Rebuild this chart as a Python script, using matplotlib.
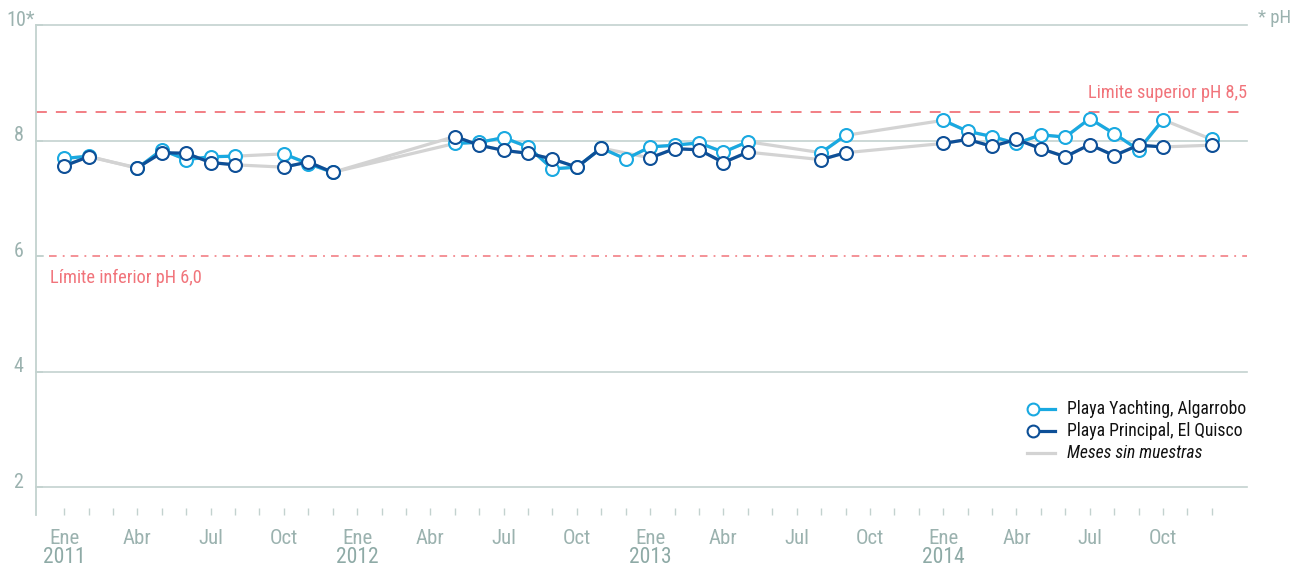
import numpy as np
import matplotlib
matplotlib.use('Agg')
import matplotlib.pyplot as plt
from matplotlib import font_manager
from matplotlib.lines import Line2D
from matplotlib.transforms import ScaledTranslation, blended_transform_factory

# fuente estrecha si existe
nombres = {f.name for f in font_manager.fontManager.ttflist}
fuente = 'DejaVu Sans'
for f in ['Liberation Sans Narrow', 'Roboto Condensed', 'Roboto']:
    if f in nombres:
        fuente = f
        break
plt.rcParams['font.family'] = [fuente, 'DejaVu Sans']

nan = np.nan
meses = np.arange(48)  # 0 = Ene 2011
etiquetas_mes = ['Ene', 'Abr', 'Jul', 'Oct']
anios = ['2011', '2012', '2013', '2014']

yachting = [7.69, 7.73, nan, 7.52, 7.84, 7.67, 7.72, 7.73, nan, 7.77, 7.60, 7.45,
            nan, nan, nan, nan, 7.95, 7.97, 8.05, 7.89, 7.51, 7.54, 7.87, 7.68,
            7.89, 7.92, 7.96, 7.80, 7.98, nan, nan, 7.79, 8.09, nan, nan, nan,
            8.35, 8.16, 8.07, 7.95, 8.10, 8.06, 8.38, 8.12, 7.84, 8.36, nan, 8.02]
principal = [7.56, 7.72, nan, 7.53, 7.79, 7.78, 7.62, 7.58, nan, 7.54, 7.63, 7.45,
             nan, nan, nan, nan, 8.07, 7.92, 7.83, 7.78, 7.68, 7.54, 7.87, nan,
             7.70, 7.86, 7.84, 7.62, 7.80, nan, nan, 7.67, 7.79, nan, nan, nan,
             7.95, 8.02, 7.90, 8.02, 7.86, 7.72, 7.93, 7.74, 7.92, 7.89, nan, 7.92]

lim_sup = 8.5
lim_inf = 6.0

c_yach = '#19a9e1'
c_prin = '#0d4f97'
c_gris = '#d3d3d3'
c_rojo = '#f1747b'
c_eje = '#c3d2cf'
c_txt = '#9bb2af'

W, H = 1304, 567
fig = plt.figure(figsize=(W / 100, H / 100), dpi=100)
x0, x1, y0, y1 = 36, 1247, 25, 515
ax = fig.add_axes([x0 / W, 1 - y1 / H, (x1 - x0) / W, (y1 - y0) / H])
ax.set_xlim(-1.15, 48.44)
ax.set_ylim(1.52, 10)

for s in ['top', 'right', 'bottom']:
    ax.spines[s].set_visible(False)
ax.spines['left'].set_color(c_eje)
ax.spines['left'].set_linewidth(1.3)

# rejilla
for v in [2, 4, 8, 10]:
    ax.axhline(v, color=c_eje, lw=1.2, zorder=1, clip_on=False)

# límites
ax.axhline(lim_sup, color=c_rojo, lw=1.3, ls=(0, (6, 5)), zorder=1)
ax.plot([-1.15, -0.85], [lim_inf, lim_inf], color=c_eje, lw=1.2, zorder=1)
ax.plot([-0.6, 48.44], [lim_inf, lim_inf], color=c_rojo, lw=1.1,
        ls=(0, (5, 4, 1.2, 4)), zorder=1)
ax.text(48.44, 8.82, 'Limite superior pH 8,5', color=c_rojo, fontsize=13.2,
        ha='right', va='center')
ax.text(-1.15 + 14 / 24.42, 5.62, 'Límite inferior pH 6,0', color=c_rojo,
        fontsize=13.2, ha='left', va='center')

# series: gris para meses sin muestras, color para meses consecutivos
for serie, col in [(yachting, c_yach), (principal, c_prin)]:
    y = np.array(serie, dtype=float)
    ok = ~np.isnan(y)
    ax.plot(meses[ok], y[ok], color=c_gris, lw=2.3, zorder=2,
            solid_capstyle='round')
for serie, col in [(yachting, c_yach), (principal, c_prin)]:
    ax.plot(meses, serie, color=col, lw=2.3, marker='o', ms=9.3, mfc='white',
            mec=col, mew=1.5, zorder=3)

# eje y
ax.set_yticks([2, 4, 6, 8, 10], ['2', '4', '6', '8', '10*'])
ax.tick_params(axis='y', direction='in', length=5, width=1.2, color=c_eje,
               labelcolor=c_txt, labelsize=14.5, pad=9)
for lbl in ax.get_yticklabels():
    dx = 8 / 72 if lbl.get_text() == '10*' else 0
    lbl.set_transform(lbl.get_transform() + ScaledTranslation(dx, 5 / 72, fig.dpi_scale_trans))

# eje x
ax.set_xticks(meses, [etiquetas_mes[m // 3 % 4] if m % 3 == 0 else '' for m in meses])
ax.tick_params(axis='x', direction='in', length=5, width=1, color=c_eje,
               labelcolor=c_txt, labelsize=15, pad=10)
tr = blended_transform_factory(ax.transData, ax.transAxes)
for i, a in enumerate(anios):
    ax.text(i * 12, -0.086, a, transform=tr, color='#8eaaa6', fontsize=15.5,
            ha='center', va='center')

fig.text(1258 / W, 1 - 18 / H, '* pH', color=c_txt, fontsize=13.5, ha='left', va='center')

# leyenda
items = [('Playa Yachting, Algarrobo', c_yach, True, 'normal'),
         ('Playa Principal, El Quisco', c_prin, True, 'normal'),
         ('Meses sin muestras', c_gris, False, 'italic')]
for k, (txt, col, mk, estilo) in enumerate(items):
    yy = 1 - (409 + 22 * k) / H
    if mk:
        fig.add_artist(Line2D([1033 / W, 1055 / W], [yy, yy], color=col, lw=2.3))
        fig.add_artist(Line2D([1033 / W], [yy], marker='o', ms=8.5, mfc='white',
                              mec=col, mew=1.5, color=col))
    else:
        fig.add_artist(Line2D([1027 / W, 1055 / W], [yy, yy], color=col, lw=2.3))
    fig.text(1067 / W, yy, txt, color='#111111', fontsize=12.7, style=estilo,
             ha='left', va='center')

fig.savefig('out.png', dpi=100)
